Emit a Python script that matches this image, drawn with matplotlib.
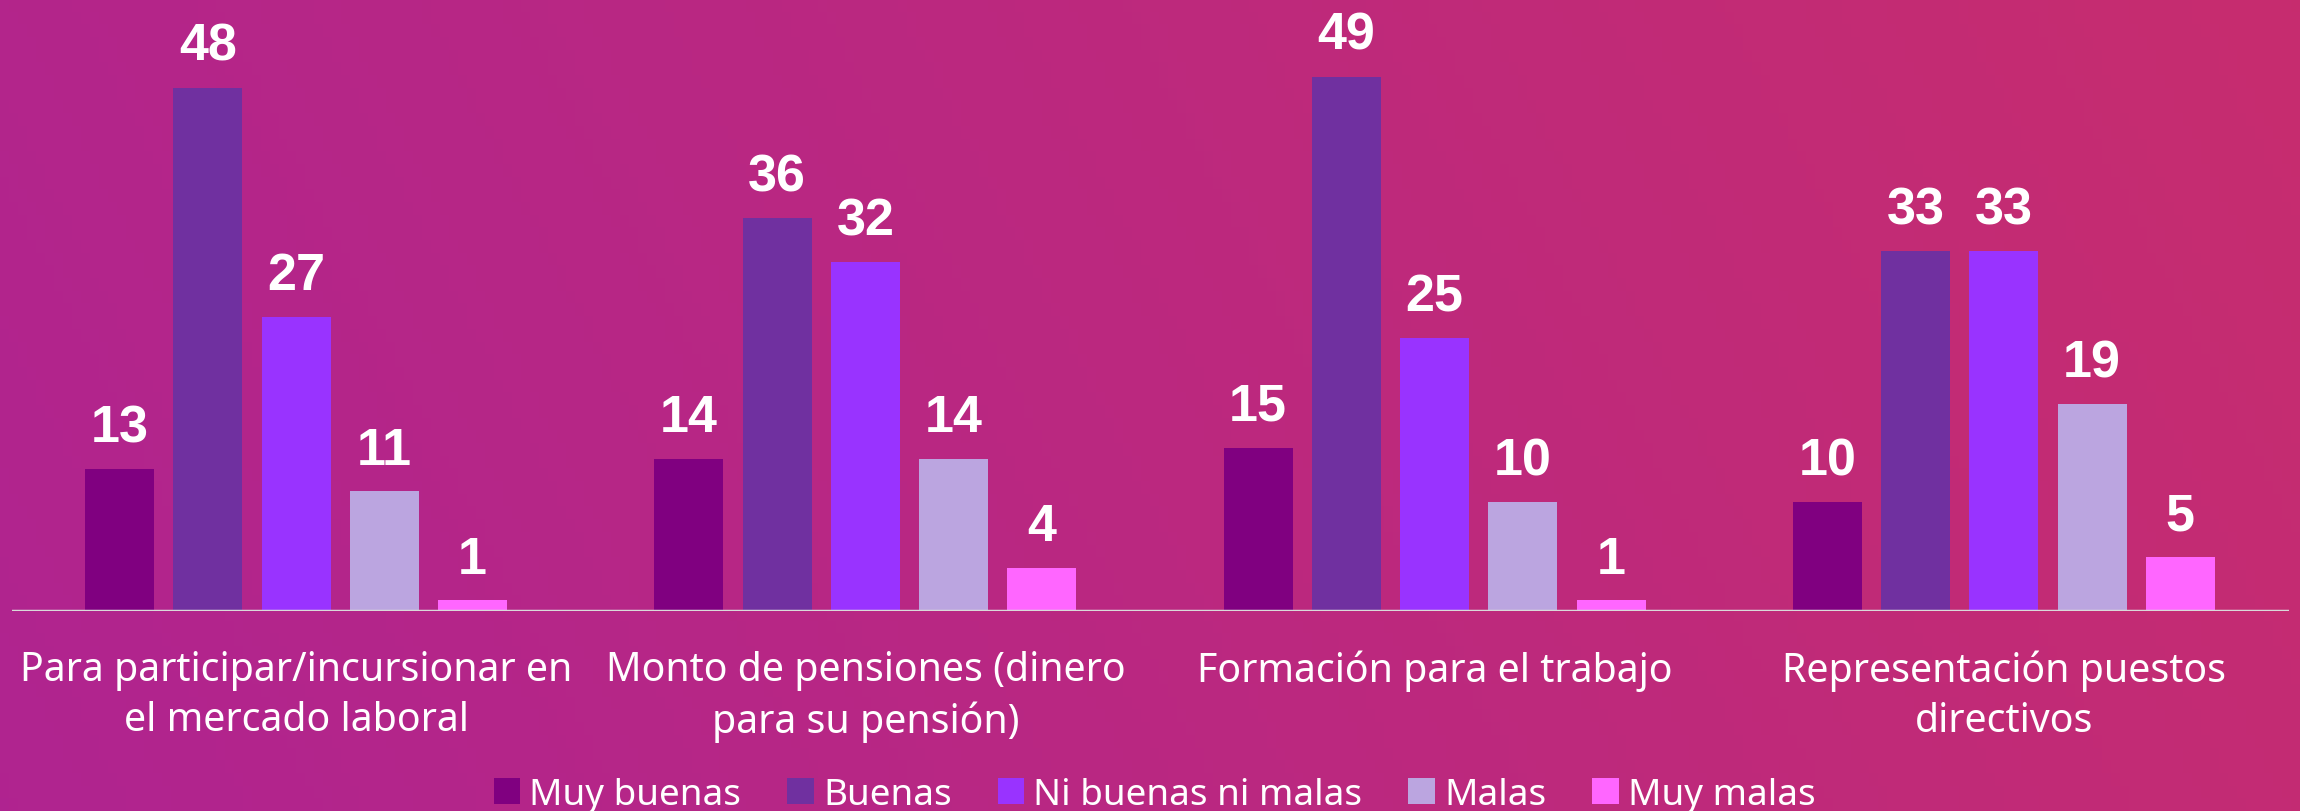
import numpy as np
import matplotlib
matplotlib.use("Agg")
import matplotlib.pyplot as plt
import matplotlib.transforms as mtrans
from matplotlib.patches import Patch

# 数据
categories = [
    "Para participar/incursionar en\nel mercado laboral",
    "Monto de pensiones (dinero\npara su pensión)",
    "Formación para el trabajo",
    "Representación puestos\ndirectivos",
]
series_names = ["Muy buenas", "Buenas", "Ni buenas ni malas", "Malas", "Muy malas"]
muy_buenas = [13, 14, 15, 10]
buenas = [48, 36, 49, 33]
ni_buenas_ni_malas = [27, 32, 25, 33]
malas = [11, 14, 10, 19]
muy_malas = [1, 4, 1, 5]
colors = ["#800080", "#7030A0", "#9933FF", "#BBA5E0", "#FF66FF"]

series = [muy_buenas, buenas, ni_buenas_ni_malas, malas, muy_malas]

W, H = 2300, 812
fig = plt.figure(figsize=(W / 100, H / 100), dpi=100)

# 背景渐变
bg = fig.add_axes([0, 0, 1, 1], zorder=-10)
xx, yy = np.meshgrid(np.linspace(0, 1, 256), np.linspace(0, 1, 64))
t = np.clip(0.85 * xx + 0.15 * (1 - yy), 0, 1)
c0 = np.array([0.690, 0.141, 0.565])
c1 = np.array([0.780, 0.176, 0.435])
img = c0[None, None, :] * (1 - t[..., None]) + c1[None, None, :] * t[..., None]
bg.imshow(img, aspect="auto", extent=[0, 1, 0, 1], origin="upper")
bg.axis("off")

ax = fig.add_axes([0.005, 0.246, 0.99, 0.739])
ax.set_facecolor("none")

x = np.arange(len(categories))
bw = 0.121
step = 0.155
for i, (name, vals, col) in enumerate(zip(series_names, series, colors)):
    pos = x + (i - 2) * step
    bars = ax.bar(pos, vals, width=bw, color=col, label=name, zorder=2)
    ax.bar_label(bars, padding=12, color="white", fontsize=37.5, fontweight="bold",
                 family="Liberation Sans")

ax.set_xlim(-0.5, 3.5)
ax.set_ylim(0, 55)
ax.axhline(0, color="#D9D9D9", lw=2.5, zorder=3)
ax.set_yticks([])
ax.set_xticks([])
for s in ax.spines.values():
    s.set_visible(False)

trans = mtrans.blended_transform_factory(ax.transData, fig.transFigure)
for xi, lab in zip(x, categories):
    ax.text(xi, 1 - 651 / H, lab, transform=trans, ha="center", va="top",
            color="white", fontsize=28.3, family="Noto Sans", linespacing=1.32)

handles = [Patch(facecolor=c, edgecolor="none") for c in colors]
fig.legend(handles, series_names, loc="center", bbox_to_anchor=(0.502, 1 - 796 / H),
           ncol=5, frameon=False, handlelength=0.72, handleheight=0.72,
           handletextpad=0.25, columnspacing=1.25, labelcolor="white",
           prop={"family": "Noto Sans", "size": 26.5})

fig.savefig("out.png", dpi=100)
